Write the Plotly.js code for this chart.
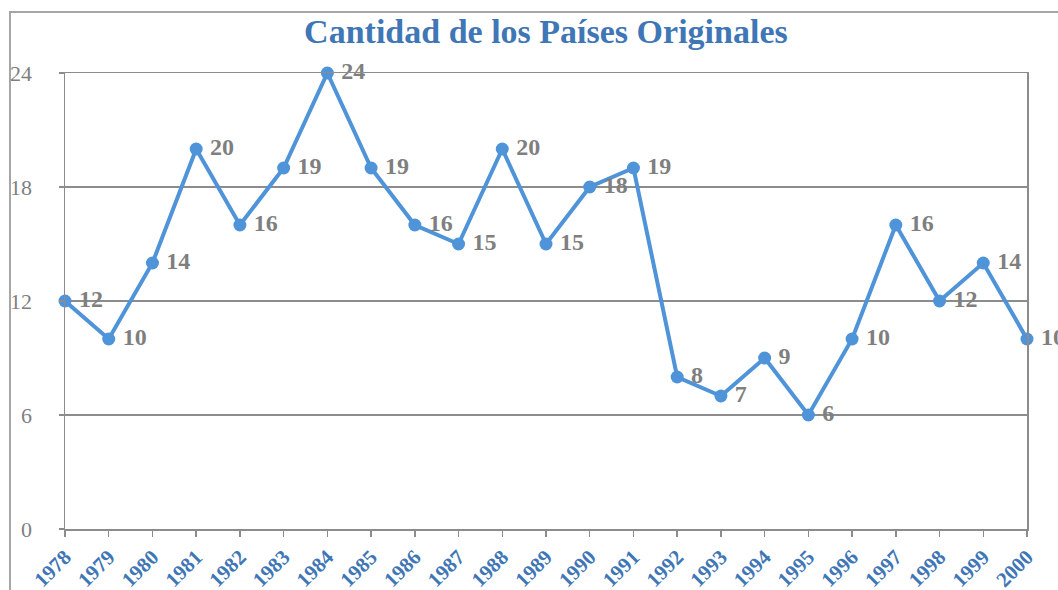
<!DOCTYPE html>
<html>
<head>
<meta charset="utf-8">
<script src="https://cdn.plot.ly/plotly-3.0.1.min.js"></script>
<style>html,body{margin:0;padding:0;background:#fff;}#chart{width:1058px;height:590px;}</style>
</head>
<body>
<div id="chart"></div>
<script>
const years = ['1978','1979','1980','1981','1982','1983','1984','1985','1986','1987','1988','1989','1990','1991','1992','1993','1994','1995','1996','1997','1998','1999','2000'];
const counts = [12,10,14,20,16,19,24,19,16,15,20,15,18,19,8,7,9,6,10,16,12,14,10];
const yTicks = [0,6,12,18,24];
const chartTitle = 'Cantidad de los Países Originales';

const serif = '"Liberation Serif", serif';
const trace = {
  x: years,
  y: counts,
  type: 'scatter',
  mode: 'lines+markers+text',
  text: counts.map(v => '\u2009' + v),
  textposition: 'middle right',
  textfont: {family: serif, size: 24, color: '#7f7f7f', weight: 'bold'},
  line: {color: '#4f93d8', width: 4},
  marker: {color: '#4f93d8', size: 13},
  cliponaxis: false,
  hoverinfo: 'x+y'
};
const W = 1058, H = 590, L = 65, R = 31, T = 73, B = 61;
const pw = W - L - R, ph = H - T - B;
const layout = {
  width: W, height: H,
  margin: {l: L, r: R, t: T, b: B},
  paper_bgcolor: '#fff', plot_bgcolor: '#fff',
  showlegend: false,
  title: {text: '<b>' + chartTitle + '</b>', font: {family: serif, size: 34, color: '#3f76b6'}, x: 0.516, xanchor: 'center', y: 0.948, yanchor: 'middle'},
  xaxis: {
    type: 'category', range: [0, years.length - 1],
    showgrid: false, zeroline: false,
    showline: true, linecolor: '#8c8c8c', linewidth: 1.5, mirror: true,
    ticks: 'outside', ticklen: 6, tickcolor: '#8c8c8c', tickwidth: 1.5,
    tickangle: -45,
    tickfont: {family: serif, size: 21, color: '#3f76b6', weight: 'bold'}
  },
  yaxis: {
    range: [0, 24], tickvals: yTicks, ticktext: yTicks.map(String),
    showgrid: true, gridcolor: '#8c8c8c', gridwidth: 1.5, zeroline: false,
    showline: true, linecolor: '#8c8c8c', linewidth: 1.5, mirror: true,
    ticks: 'outside', ticklen: 5, tickcolor: '#8c8c8c', tickwidth: 1.5,
    ticklabelstandoff: 22,
    tickfont: {family: serif, size: 22, color: '#7f7f7f'}
  },
  shapes: [{
    type: 'rect', xref: 'paper', yref: 'paper', layer: 'below',
    x0: (10 - L) / pw, x1: (W + 20 - L) / pw,
    y0: -(B + 20) / ph, y1: (H - B - 12) / ph,
    line: {color: '#a6a6a6', width: 2}, fillcolor: 'rgba(0,0,0,0)'
  }]
};
Plotly.newPlot('chart', [trace], layout, {displayModeBar: false, staticPlot: true});
</script>
</body>
</html>
